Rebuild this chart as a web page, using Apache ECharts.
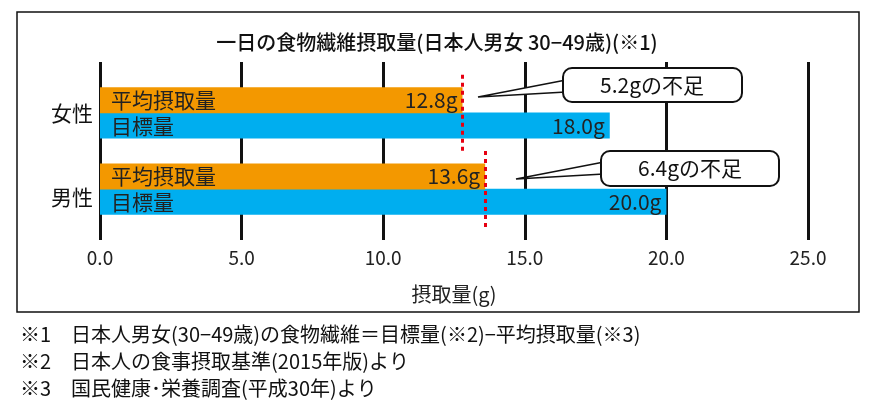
<!DOCTYPE html>
<html><head><meta charset="utf-8">
<script src="https://cdn.jsdelivr.net/npm/echarts@6/dist/echarts.min.js"></script>
<style>body{margin:0;background:#fff}#c{width:871px;height:417px}</style>
</head><body><div id="c"></div>
<script>
// y categories bottom -> top, empty ones keep spacing
const cats = ['b', '男性目標', '男性平均', 'mid', '女性目標', '女性平均', 't'];
const barNames = [null, '目標量', '平均摂取量', null, '目標量', '平均摂取量', null];
const barValues = [null, 20.0, 13.6, null, 18.0, 12.8, null];
const groupLabels = ['女性', '男性'];
const FONT = '"Noto Sans CJK JP"';
const ORANGE = '#F39800', BLUE = '#00AEEF';

const chart = echarts.init(document.getElementById('c'));

const barData = barValues.map((v, i) => v == null ? null : {
  value: v,
  itemStyle: { color: barNames[i] === '目標量' ? BLUE : ORANGE }
});
const dash = { color: '#E60012', width: 3, type: [4, 4] };

chart.setOption({
  animation: false,
  textStyle: { fontFamily: FONT },
  grid: { left: 100, right: 63, top: 62, bottom: 177 },
  xAxis: {
    type: 'value', min: 0, max: 25, interval: 5,
    axisLine: { show: false }, axisTick: { show: false },
    splitLine: { show: true, lineStyle: { color: '#111', width: 3 } },
    axisLabel: { color: '#222', fontSize: 19, margin: 8, formatter: v => v.toFixed(1) },
    name: '摂取量(g)', nameLocation: 'middle', nameGap: 44,
    nameTextStyle: { color: '#222', fontSize: 20, fontFamily: FONT }
  },
  yAxis: { type: 'category', data: cats, show: false },
  series: [{
    type: 'bar', data: barData, barWidth: 26, barGap: '-100%',
    label: {
      show: true, position: 'insideRight', color: '#222', fontSize: 21,
      formatter: p => p.value.toFixed(1) + 'g'
    },
    markLine: {
      symbol: 'none', silent: true, label: { show: false },
      data: [
        [{ xAxis: 12.8, yAxis: 6.3, lineStyle: dash }, { xAxis: 12.8, yAxis: 3.0 }],
        [{ xAxis: 13.6, yAxis: 3.1, lineStyle: dash }, { xAxis: 13.6, yAxis: -0.3 }]
      ]
    },
    z: 2
  }, {
    type: 'bar', data: barValues.map(v => v), barWidth: 26,
    itemStyle: { color: 'transparent' },
    label: {
      show: true, position: 'insideLeft', color: '#222', fontSize: 21, offset: [6, 0],
      formatter: p => barNames[p.dataIndex]
    },
    z: 3
  }],
  graphic: [
    { type: 'rect', shape: { x: 17, y: 12, width: 842, height: 300 },
      style: { fill: 'none', stroke: '#111', lineWidth: 1.5 } },
    { type: 'text', x: 437, y: 42, style: { text: '一日の食物繊維摂取量(日本人男女 30−49歳)(※1)',
      font: '500 20px ' + FONT, fill: '#111', align: 'center', verticalAlign: 'middle' } },
    { type: 'text', x: 72, y: 113, style: { text: groupLabels[0], font: '21px ' + FONT,
      fill: '#111', align: 'center', verticalAlign: 'middle' } },
    { type: 'text', x: 72, y: 197, style: { text: groupLabels[1], font: '21px ' + FONT,
      fill: '#111', align: 'center', verticalAlign: 'middle' } },
    { type: 'polyline', shape: { points: [[566, 80], [478, 97], [566, 92]] },
      style: { fill: '#fff', stroke: '#111', lineWidth: 1.5 }, z: 10 },
    { type: 'rect', shape: { x: 563, y: 68, width: 179, height: 34, r: 9 },
      style: { fill: '#fff', stroke: '#111', lineWidth: 2 }, z: 11 },
    { type: 'text', x: 652, y: 85, z: 12, style: { text: '5.2gの不足', font: '21px ' + FONT,
      fill: '#111', align: 'center', verticalAlign: 'middle' } },
    { type: 'polyline', shape: { points: [[604, 162], [516, 179], [604, 174]] },
      style: { fill: '#fff', stroke: '#111', lineWidth: 1.5 }, z: 10 },
    { type: 'rect', shape: { x: 601, y: 151, width: 178, height: 35, r: 9 },
      style: { fill: '#fff', stroke: '#111', lineWidth: 2 }, z: 11 },
    { type: 'text', x: 690, y: 168, z: 12, style: { text: '6.4gの不足', font: '21px ' + FONT,
      fill: '#111', align: 'center', verticalAlign: 'middle' } },
    { type: 'text', x: 20, y: 334, style: { text: '※1　日本人男女(30−49歳)の食物繊維＝目標量(※2)−平均摂取量(※3)',
      font: '20px ' + FONT, fill: '#111', verticalAlign: 'middle' } },
    { type: 'text', x: 20, y: 361, style: { text: '※2　日本人の食事摂取基準(2015年版)より',
      font: '20px ' + FONT, fill: '#111', verticalAlign: 'middle' } },
    { type: 'text', x: 20, y: 388, style: { text: '※3　国民健康･栄養調査(平成30年)より',
      font: '20px ' + FONT, fill: '#111', verticalAlign: 'middle' } }
  ]
});
</script></body></html>
